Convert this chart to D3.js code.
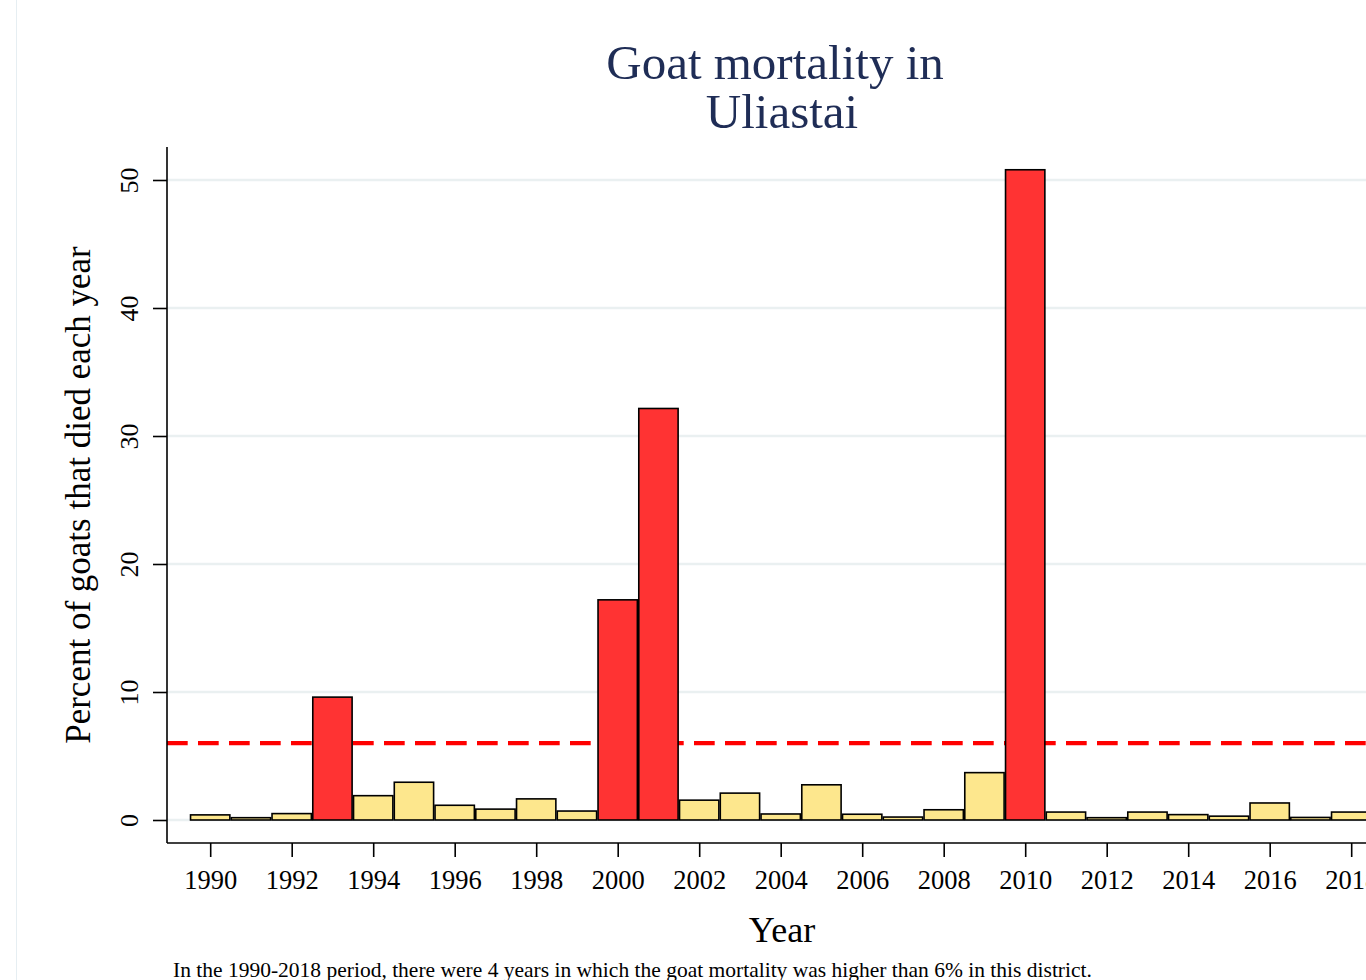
<!DOCTYPE html>
<html><head><meta charset="utf-8">
<script src="https://cdn.jsdelivr.net/npm/d3@7"></script>
<style>body{margin:0;background:#fff;}svg{display:block;font-family:"Liberation Serif","Times New Roman",serif;}</style>
</head><body><svg id="c" width="1366" height="980"></svg>
<script>
const years = d3.range(1990, 2019);
const mortality = [0.4,0.18,0.5,9.6,1.9,2.95,1.15,0.85,1.65,0.7,17.2,32.15,1.55,2.1,0.47,2.75,0.45,0.23,0.8,3.7,50.8,0.62,0.18,0.62,0.42,0.3,1.33,0.2,0.62];
const yTicks = [0,10,20,30,40,50];
const xTicks = d3.range(1990, 2019, 2);
const threshold = 6;
const titleLines = ["Goat mortality in","Uliastai"];
const yTitle = "Percent of goats that died each year";
const xTitle = "Year";
const caption = "In the 1990-2018 period, there were 4 years in which the goat mortality was higher than 6% in this district.";

const FONT = '"Liberation Serif","Times New Roman",serif';
const svg = d3.select("#c");
const step = 40.75;
const x = d3.scaleLinear().domain([1988.94, 2020]).range([167, 167 + (2020-1988.94)*step]);
const y = d3.scaleLinear().domain([0,50]).range([820,180]);

// figure left border
svg.append("line").attr("x1",16.5).attr("x2",16.5).attr("y1",0).attr("y2",980).attr("stroke","#e6eef2").attr("stroke-width",1);

// gridlines
svg.append("g").selectAll("line").data(yTicks).join("line")
  .attr("x1",167).attr("x2",1366).attr("y1",d=>y(d)).attr("y2",d=>y(d))
  .attr("stroke","#eaf0f1").attr("stroke-width",2.5);

// threshold dashed line
svg.append("line").attr("x1",167).attr("x2",1366).attr("y1",y(threshold)).attr("y2",y(threshold))
  .attr("stroke","#ff0000").attr("stroke-width",4.2).attr("stroke-dasharray","20.7 10.3");

// bars
const bw = step*0.965;
svg.append("g").selectAll("rect").data(years).join("rect")
  .attr("x",(d)=>x(d)-bw/2).attr("width",bw)
  .attr("y",(d,i)=>y(mortality[i])).attr("height",(d,i)=>y(0)-y(mortality[i]))
  .attr("fill",(d,i)=>mortality[i]>threshold?"#ff3333":"#fde78d")
  .attr("stroke","#000").attr("stroke-width",1.6);

// y axis
const yAxis = svg.append("g").attr("transform","translate(167,0)")
  .call(d3.axisLeft(y).tickValues(yTicks).tickSize(14).tickSizeOuter(0))
  .attr("font-family",FONT);
yAxis.select(".domain").attr("d","M0,147V843").attr("stroke","#000").attr("stroke-width",1.6);
yAxis.selectAll(".tick line").attr("stroke-width",1.6);
yAxis.selectAll(".tick text").attr("font-size",26).attr("fill","#000")
  .attr("text-anchor","middle").attr("x",0).attr("y",-29).attr("dy",0).attr("transform","rotate(-90)");

// x axis
const xAxis = svg.append("g").attr("transform","translate(0,843)")
  .call(d3.axisBottom(x).tickValues(xTicks).tickFormat(d3.format("d")).tickSize(14).tickPadding(13).tickSizeOuter(0))
  .attr("font-family",FONT);
xAxis.select(".domain").attr("d","M167,0H1366").attr("stroke","#000").attr("stroke-width",1.6);
xAxis.selectAll(".tick line").attr("stroke-width",1.6);
xAxis.selectAll(".tick text").attr("font-size",26.5).attr("fill","#000");

// titles
svg.append("g").selectAll("text").data(titleLines).join("text")
  .attr("x",(d,i)=>i===0?775:782).attr("y",(d,i)=>79+i*49)
  .attr("text-anchor","middle").attr("font-size",49).attr("fill","#1f2d56").text(d=>d);

svg.append("text").attr("transform","translate(90,495) rotate(-90)")
  .attr("text-anchor","middle").attr("font-size",35).attr("fill","#000").text(yTitle);

svg.append("text").attr("x",782).attr("y",942).attr("text-anchor","middle")
  .attr("font-size",36).attr("fill","#000").text(xTitle);

svg.append("text").attr("x",173).attr("y",977).attr("font-size",21.5).attr("fill","#000").text(caption);
</script></body></html>
